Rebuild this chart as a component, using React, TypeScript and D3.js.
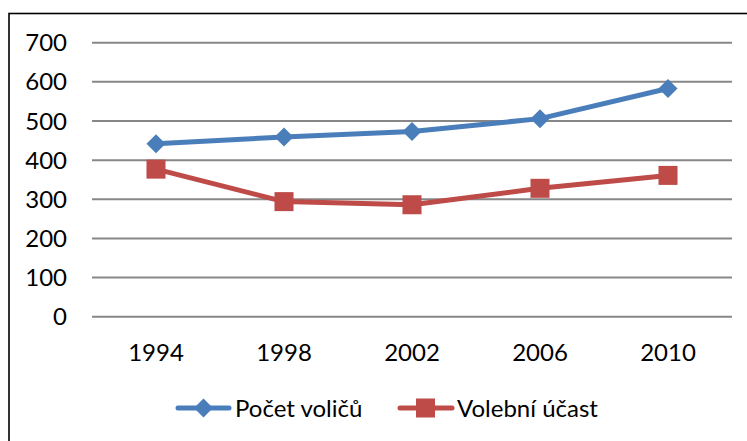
import React from "react";
import * as d3 from "d3";

const categories = ["1994", "1998", "2002", "2006", "2010"];
const pocetVolicu = [442, 459, 473, 506, 583];
const volebniUcast = [377, 294, 286, 328, 361];
const yTicks = [0, 100, 200, 300, 400, 500, 600, 700];
const seriesNames = ["Počet voličů", "Volební účast"];

const W = 747;
const H = 441;
const FONT = "Lato, 'Open Sans', sans-serif";
const FS = 24;
const BLUE = "#4A7EBB";
const RED = "#BE4B48";

export default function App() {
  const x = d3.scaleBand<string>().domain(categories).range([92, 732]);
  const y = d3.scaleLinear().domain([0, 700]).range([316.7, 42.7]);
  const cx = (c: string) => (x(c) as number) + x.bandwidth() / 2;
  const line = d3
    .line<number>()
    .x((_, i) => cx(categories[i]))
    .y((d) => y(d));

  const diamond = (px: number, py: number, r: number) =>
    `M${px},${py - r}L${px + r},${py}L${px},${py + r}L${px - r},${py}Z`;

  return (
    <div style={{ position: "fixed", left: 0, top: 0, width: W, height: H, background: "#fff" }}>
      <svg width={W} height={H} style={{ display: "block" }} fontFamily={FONT}>
        <rect x={9} y={13.5} width={W + 20} height={H + 20} fill="#fff" stroke="#000" strokeWidth={1.6} />
        {yTicks.map((t) => (
          <g key={t}>
            <line x1={92} x2={732} y1={y(t)} y2={y(t)} stroke="#878787" strokeWidth={2} />
            <text x={67} y={y(t)} dy="0.36em" textAnchor="end" fontSize={FS} fill="#000">
              {t}
            </text>
          </g>
        ))}
        {categories.map((c) => (
          <text key={c} x={cx(c)} y={352} dy="0.36em" textAnchor="middle" fontSize={FS} fill="#000">
            {c}
          </text>
        ))}
        <path d={line(pocetVolicu) || ""} fill="none" stroke={BLUE} strokeWidth={5} strokeLinejoin="round" strokeLinecap="round" />
        {pocetVolicu.map((v, i) => (
          <path key={i} d={diamond(cx(categories[i]), y(v), 9.5)} fill={BLUE} />
        ))}
        <path d={line(volebniUcast) || ""} fill="none" stroke={RED} strokeWidth={5} strokeLinejoin="round" strokeLinecap="round" />
        {volebniUcast.map((v, i) => (
          <rect key={i} x={cx(categories[i]) - 9.5} y={y(v) - 9.5} width={19} height={19} fill={RED} />
        ))}
        {/* legend */}
        <g>
          <line x1={178} x2={229} y1={408} y2={408} stroke={BLUE} strokeWidth={5} strokeLinecap="round" />
          <path d={diamond(203.5, 408, 9.5)} fill={BLUE} />
          <text x={235} y={408} dy="0.36em" fontSize={FS} fill="#000">
            {seriesNames[0]}
          </text>
          <line x1={400} x2={452} y1={408} y2={408} stroke={RED} strokeWidth={5} strokeLinecap="round" />
          <rect x={416} y={398.5} width={19} height={19} fill={RED} />
          <text x={457} y={408} dy="0.36em" fontSize={FS} fill="#000">
            {seriesNames[1]}
          </text>
        </g>
      </svg>
    </div>
  );
}
